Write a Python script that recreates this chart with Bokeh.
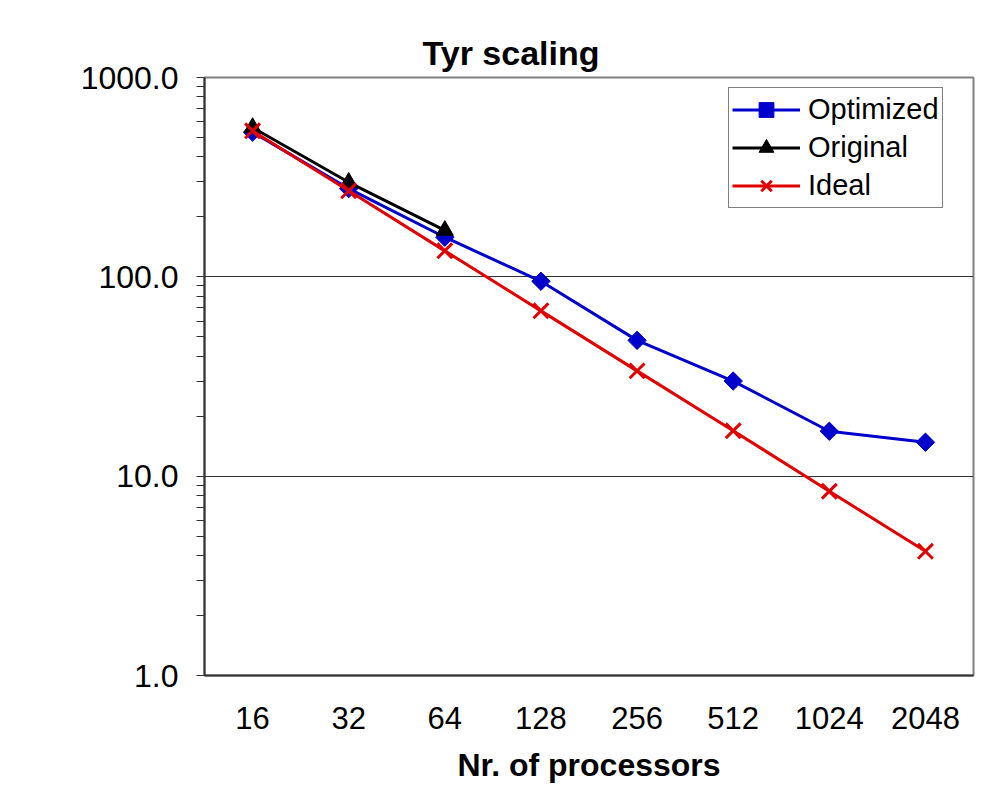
import math
from bokeh.plotting import figure
from bokeh.models import FactorRange, FixedTicker, PrintfTickFormatter, Legend, LegendItem
from bokeh.embed import file_html
from bokeh.resources import INLINE

processors = ["16", "32", "64", "128", "256", "512", "1024", "2048"]
optimized = [532, 277, 158, 95, 48, 30, 16.8, 14.8]
original_procs = ["16", "32", "64"]
original = [561, 298, 171]
ideal = [540, 270, 135, 67.5, 33.75, 16.9, 8.4, 4.2]

y_major = [1, 10, 100, 1000]
y_minor = [2, 3, 4, 5, 6, 7, 8, 9, 20, 30, 40, 50, 60, 70, 80, 90,
           200, 300, 400, 500, 600, 700, 800, 900]

FONT = "Liberation Sans"

p = figure(width=982, height=786, x_range=FactorRange(factors=processors, range_padding=0),
           y_range=(1, 1000), y_axis_type="log", output_backend="svg",
           toolbar_location=None, title="Tyr scaling",
           min_border_left=204, min_border_top=77, min_border_right=9, min_border_bottom=111)

p.title.text_font = FONT
p.title.text_font_size = "34px"
p.title.text_font_style = "bold"
p.title.text_color = "black"
p.title.align = "left"
p.title.offset = 218
p.title.standoff = 11

p.outline_line_color = "#808080"
p.outline_line_width = 2
p.background_fill_color = "white"
p.border_fill_color = "white"

p.xgrid.grid_line_color = None
p.ygrid.ticker = FixedTicker(ticks=[10, 100])
p.ygrid.grid_line_color = "#333333"
p.ygrid.grid_line_width = 1

ya = p.yaxis[0]
ya.ticker = FixedTicker(ticks=y_major, minor_ticks=y_minor)
ya.formatter = PrintfTickFormatter(format="%.1f")
ya.major_label_text_font = FONT
ya.major_label_text_font_size = "32px"
ya.major_label_text_color = "black"
ya.axis_line_color = "#333333"
ya.axis_line_width = 2
ya.major_tick_out = 8
ya.major_tick_in = 0
ya.minor_tick_out = 8
ya.minor_tick_in = 0
ya.major_tick_line_color = "#333333"
ya.minor_tick_line_color = "#333333"
ya.major_label_standoff = 18

xa = p.xaxis[0]
xa.major_label_text_font = FONT
xa.major_label_text_font_size = "31px"
xa.major_label_text_color = "black"
xa.axis_line_color = "#333333"
xa.axis_line_width = 2
xa.major_tick_line_color = None
xa.minor_tick_line_color = None
xa.major_tick_out = 0
xa.major_label_standoff = 31
xa.axis_label = "Nr. of processors"
xa.axis_label_text_font = FONT
xa.axis_label_text_font_size = "32px"
xa.axis_label_text_font_style = "bold"
xa.axis_label_text_color = "black"
xa.axis_label_standoff = 15

BLUE = "#0000CC"
RED = "#E00000"

l1 = p.line(processors, optimized, line_color=BLUE, line_width=3)
m1 = p.scatter(processors, optimized, marker="square", angle=math.pi / 4, size=13,
               fill_color=BLUE, line_color=BLUE)
l2 = p.line(original_procs, original, line_color="black", line_width=3)
m2 = p.scatter(original_procs, original, marker="triangle", size=17, fill_color="black", line_color="black")
l3 = p.line(processors, ideal, line_color=RED, line_width=3)
m3 = p.scatter(processors, ideal, marker="x", size=21, line_color=RED, line_width=3)

legend = Legend(items=[LegendItem(label="Optimized", renderers=[l1, m1]),
                       LegendItem(label="Original", renderers=[l2, m2]),
                       LegendItem(label="Ideal", renderers=[l3, m3])],
                location=(524, 467))
legend.border_line_color = "black"
legend.border_line_width = 1
legend.label_text_font = FONT
legend.label_text_font_size = "29px"
legend.label_text_color = "black"
legend.glyph_width = 68
legend.glyph_height = 37
legend.label_height = 37
legend.spacing = 1
legend.padding = 3
legend.margin = 0
legend.label_standoff = 8
p.add_layout(legend)

open("out.html", "w").write(file_html(p, INLINE))
